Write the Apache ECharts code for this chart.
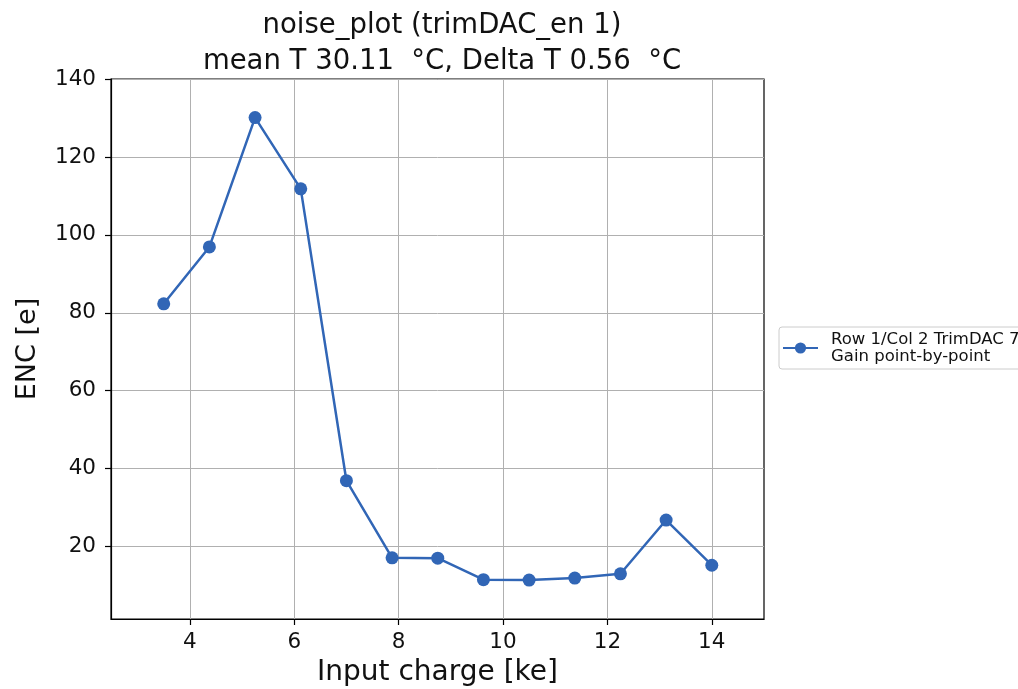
<!DOCTYPE html>
<html>
<head>
<meta charset="utf-8">
<script src="https://cdn.jsdelivr.net/npm/echarts@6/dist/echarts.min.js"></script>
<style>
  html, body { margin: 0; padding: 0; background: #fff; }
  #chart { width: 1018px; height: 689px; }
</style>
</head>
<body>
<div id="chart"></div>
<script>
// input charge [ke]
var charge = [3.5, 4.375, 5.25, 6.125, 7.0, 7.875, 8.75, 9.625, 10.5, 11.375, 12.25, 13.125, 14.0];
// ENC [e]
var enc = [82.3, 96.9, 130.1, 111.8, 36.9, 17.1, 17.0, 11.5, 11.4, 11.9, 13.0, 26.8, 15.2];
var xTicks = [4, 6, 8, 10, 12, 14];
var yTicks = [20, 40, 60, 80, 100, 120, 140];
var seriesName = "Row 1/Col 2 TrimDAC 7\nGain point-by-point";

var font = "DejaVu Sans";
var myChart = echarts.init(document.getElementById("chart"));

var points = [];
for (var i = 0; i < charge.length; i++) {
  points.push([charge[i], enc[i]]);
}

var option = {
  animation: false,
  backgroundColor: "#fff",
  title: {
    text: "noise_plot (trimDAC_en 1)\nmean T 30.11  \u00b0C, Delta T 0.56  \u00b0C",
    left: 437,
    top: 3,
    textAlign: "center",
    textStyle: {
      fontFamily: font,
      fontSize: 27.5,
      fontWeight: "normal",
      color: "#111",
      lineHeight: 36,
    },
  },
  legend: {
    data: [seriesName],
    left: 779,
    top: 327,
    orient: "vertical",
    borderColor: "#cccccc",
    borderWidth: 1,
    borderRadius: 3,
    padding: [4, 8, 4, 3],
    itemWidth: 35,
    itemHeight: 14,
    itemGap: 4,
    textStyle: {
      fontFamily: font,
      fontSize: 16.5,
      color: "#111",
      lineHeight: 17,
      padding: [0, 0, 0, 8],
    },
  },
  grid: {
    left: 111,
    right: 254,
    top: 79,
    bottom: 70,
    outerBoundsMode: "none",
    show: true,
    borderColor: "#000",
    borderWidth: 1.2,
  },
  xAxis: {
    type: "value",
    min: 2.49,
    max: 15.0,
    name: "Input charge [ke]",
    nameLocation: "middle",
    nameGap: 40,
    nameTextStyle: { fontFamily: font, fontSize: 28, color: "#111" },
    axisLine: { show: true, onZero: false, lineStyle: { color: "#000", width: 1.2 } },
    axisTick: {
      show: true,
      length: 6,
      customValues: xTicks,
      lineStyle: { color: "#000", width: 1.2 },
    },
    axisLabel: {
      customValues: xTicks,
      margin: 12,
      fontFamily: font,
      fontSize: 21.5,
      color: "#111",
    },
    splitLine: { show: true, lineStyle: { color: "#b0b0b0", width: 1 } },
  },
  yAxis: {
    type: "value",
    min: 1.4,
    max: 140,
    name: "ENC [e]",
    nameLocation: "middle",
    nameGap: 70,
    nameRotate: 90,
    nameTextStyle: { fontFamily: font, fontSize: 27, color: "#111" },
    axisLine: { show: true, onZero: false, lineStyle: { color: "#000", width: 1.2 } },
    axisTick: {
      show: true,
      length: 6,
      customValues: yTicks,
      lineStyle: { color: "#000", width: 1.2 },
    },
    axisLabel: {
      customValues: yTicks,
      margin: 15,
      fontFamily: font,
      fontSize: 21.5,
      color: "#111",
    },
    splitLine: { show: true, lineStyle: { color: "#b0b0b0", width: 1 } },
  },
  series: [
    {
      name: seriesName,
      type: "line",
      data: points,
      symbol: "circle",
      symbolSize: 13,
      lineStyle: { color: "#3166b6", width: 2.5 },
      itemStyle: { color: "#3166b6", borderWidth: 0 },
    },
  ],
};

myChart.setOption(option);
</script>
</body>
</html>
